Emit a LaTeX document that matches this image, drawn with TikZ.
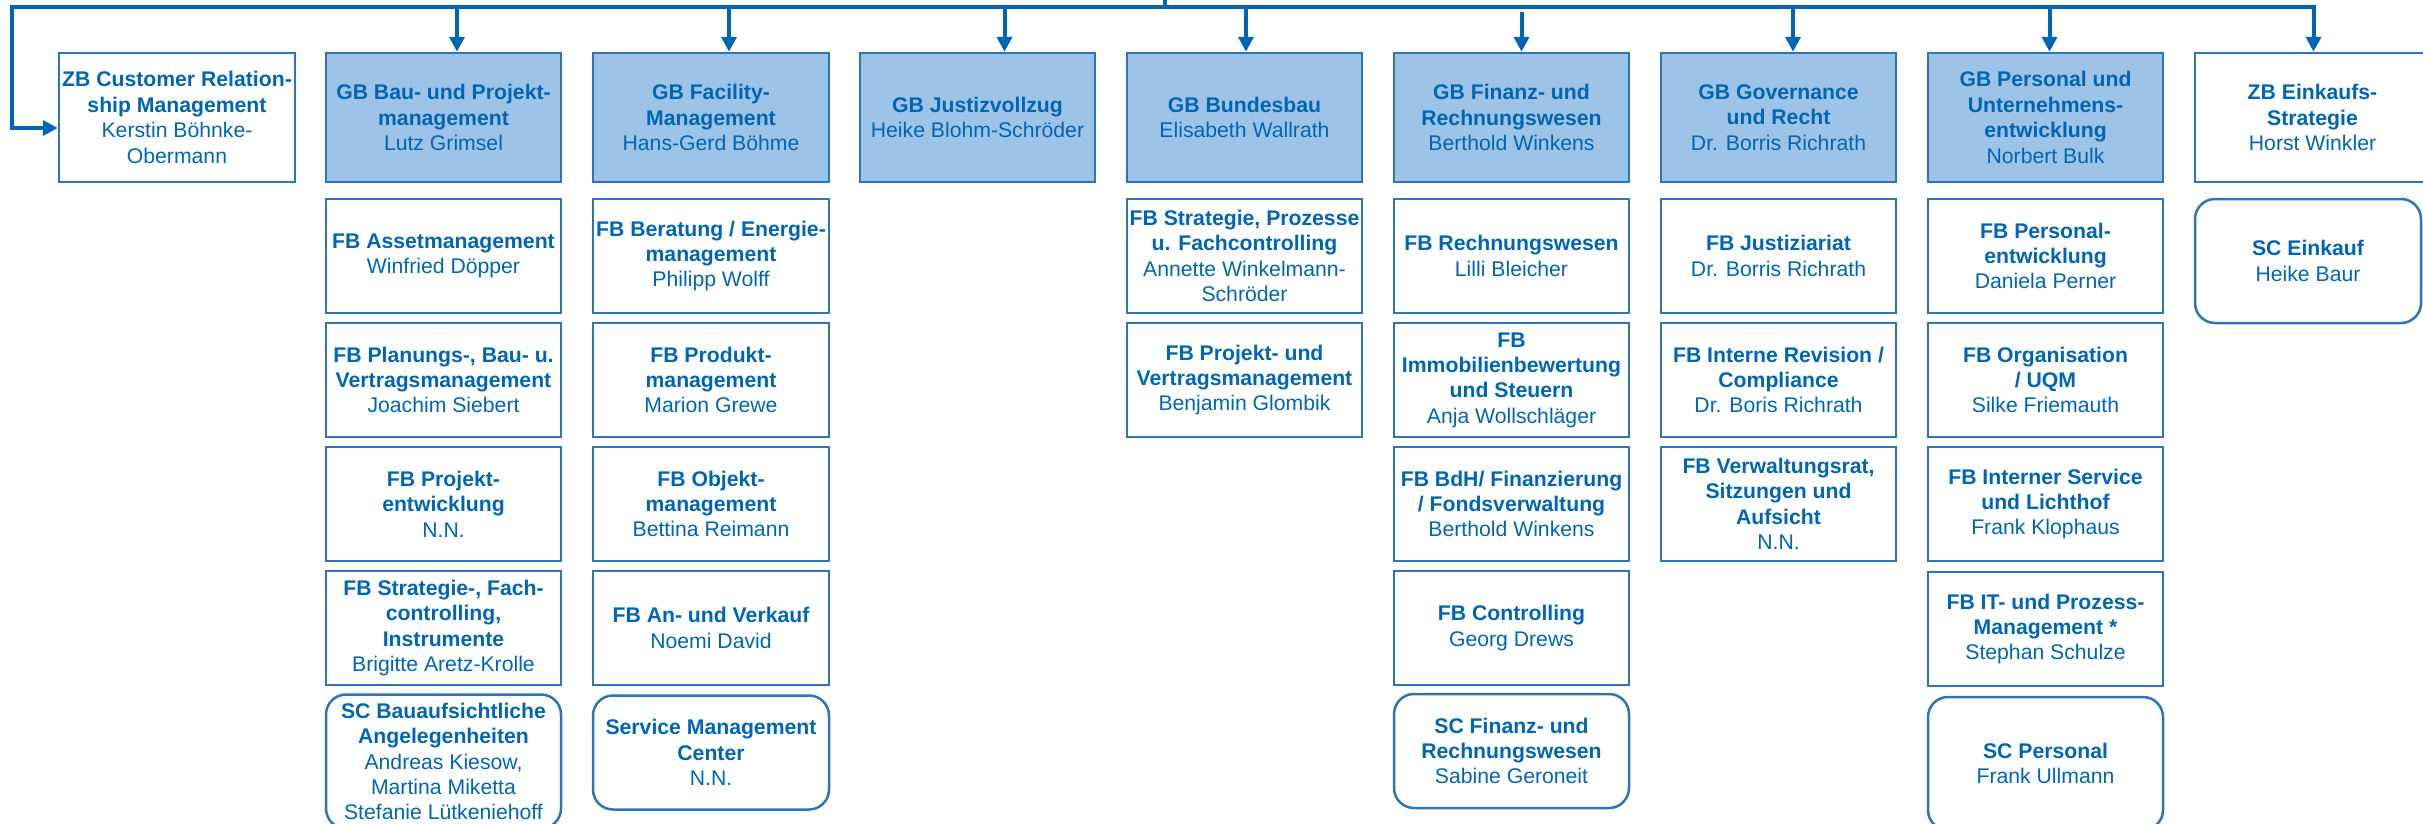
\documentclass[tikz,border=0pt]{standalone}
\usepackage{fontspec}
\setmainfont{Liberation Sans}
\usetikzlibrary{arrows.meta}
\definecolor{txtc}{HTML}{0066B3}
\definecolor{bordc}{HTML}{2E75B6}
\definecolor{fillc}{HTML}{9DC3E6}
\definecolor{arrc}{HTML}{0066B3}
\newcommand{\hd}[1]{\textbf{#1}}
\begin{document}
\begin{tikzpicture}[x=1pt,y=-1pt,
 unit/.style={draw=bordc, line width=2.5pt, text=txtc, align=center, inner sep=0pt,
   minimum width=235pt, minimum height=114pt, fill=white,
   font=\fontsize{21.2}{25.4}\selectfont},
 gbbox/.style={unit, fill=fillc, minimum height=129pt},
 zbbox/.style={unit, minimum height=129pt},
 fbbox/.style={unit},
 scbox/.style={unit, rounded corners=20pt},
 conn/.style={draw=arrc, line width=4pt},
 arr/.style={conn, -{Triangle[length=15pt,width=15pt]}}
]
\useasboundingbox (0,0) rectangle (2423,823);

% ---------- header row ----------
\node[zbbox, minimum width=236pt] (crm) at (177,117.5)
  {\hd{ZB Customer Relation-}\\\hd{ship Management}\\Kerstin Böhnke-\\Obermann};
\node[gbbox] (bau) at (443.5,117.5) {\hd{GB Bau- und Projekt-}\\\hd{management}\\Lutz Grimsel};
\node[gbbox, minimum width=236pt] (fac) at (711,117.5) {\hd{GB Facility-}\\\hd{Management}\\Hans-Gerd Böhme};
\node[gbbox] (jus) at (977.5,117.5) {\hd{GB Justizvollzug}\\Heike Blohm-Schröder};
\node[gbbox] (bund) at (1244.5,117.5) {\hd{GB Bundesbau}\\Elisabeth Wallrath};
\node[gbbox] (fin) at (1511.5,117.5) {\hd{GB Finanz- und}\\\hd{Rechnungswesen}\\Berthold Winkens};
\node[gbbox] (gov) at (1778.5,117.5) {\hd{GB Governance}\\\hd{und Recht}\\Dr. Borris Richrath};
\node[gbbox] (pers) at (2045.5,117.5) {\hd{GB Personal und}\\\hd{Unternehmens-}\\\hd{entwicklung}\\Norbert Bulk};
\node[zbbox] (ein) at (2312.5,117.5) {\hd{ZB Einkaufs-}\\\hd{Strategie}\\Horst Winkler};

% ---------- column Bau ----------
\node[fbbox] (b1) at (443.5,256) {\hd{FB Assetmanagement}\\Winfried Döpper};
\node[fbbox] (b2) at (443.5,380) {\hd{FB Planungs-, Bau- u.}\\\hd{Vertragsmanagement}\\Joachim Siebert};
\node[fbbox] (b3) at (443.5,504) {\hd{FB Projekt-}\\\hd{entwicklung}\\N.N.};
\node[fbbox] (b4) at (443.5,628) {\hd{FB Strategie-, Fach-}\\\hd{controlling,}\\\hd{Instrumente}\\Brigitte Aretz-Krolle};
\node[scbox, minimum height=134pt] (b5) at (443.5,761.5) {\hd{SC Bauaufsichtliche}\\\hd{Angelegenheiten}\\Andreas Kiesow,\\Martina Miketta\\Stefanie Lütkeniehoff};

% ---------- column Facility ----------
\node[fbbox, minimum width=236pt] (f1) at (711,256) {\hd{FB Beratung / Energie-}\\\hd{management}\\Philipp Wolff};
\node[fbbox, minimum width=236pt] (f2) at (711,380) {\hd{FB Produkt-}\\\hd{management}\\Marion Grewe};
\node[fbbox, minimum width=236pt] (f3) at (711,504) {\hd{FB Objekt-}\\\hd{management}\\Bettina Reimann};
\node[fbbox, minimum width=236pt] (f4) at (711,628) {\hd{FB An- und Verkauf}\\Noemi David};
\node[scbox, minimum width=236pt] (f5) at (711,752.5) {\hd{Service Management}\\\hd{Center}\\N.N.};

% ---------- column Bundesbau ----------
\node[fbbox] (bu1) at (1244.5,256) {\hd{FB Strategie, Prozesse}\\\hd{u. Fachcontrolling}\\Annette Winkelmann-\\Schröder};
\node[fbbox] (bu2) at (1244.5,380) {\hd{FB Projekt- und}\\\hd{Vertragsmanagement}\\Benjamin Glombik};

% ---------- column Finanz ----------
\node[fbbox] (fi1) at (1511.5,256) {\hd{FB Rechnungswesen}\\Lilli Bleicher};
\node[fbbox] (fi2) at (1511.5,380) {\hd{FB}\\\hd{Immobilienbewertung}\\\hd{und Steuern}\\Anja Wollschläger};
\node[fbbox] (fi3) at (1511.5,504) {\hd{FB BdH/ Finanzierung}\\\hd{/ Fondsverwaltung}\\Berthold Winkens};
\node[fbbox] (fi4) at (1511.5,628) {\hd{FB Controlling}\\Georg Drews};
\node[scbox] (fi5) at (1511.5,751) {\hd{SC Finanz- und}\\\hd{Rechnungswesen}\\Sabine Geroneit};

% ---------- column Governance ----------
\node[fbbox] (g1) at (1778.5,256) {\hd{FB Justiziariat}\\Dr. Borris Richrath};
\node[fbbox] (g2) at (1778.5,380) {\hd{FB Interne Revision /}\\\hd{Compliance}\\Dr. Boris Richrath};
\node[fbbox] (g3) at (1778.5,504) {\hd{FB Verwaltungsrat,}\\\hd{Sitzungen und}\\\hd{Aufsicht}\\N.N.};

% ---------- column Personal ----------
\node[fbbox] (p1) at (2045.5,256) {\hd{FB Personal-}\\\hd{entwicklung}\\Daniela Perner};
\node[fbbox] (p2) at (2045.5,380) {\hd{FB Organisation}\\\hd{/ UQM}\\Silke Friemauth};
\node[fbbox] (p3) at (2045.5,504) {\hd{FB Interner Service}\\\hd{und Lichthof}\\Frank Klophaus};
\node[fbbox] (p4) at (2045.5,629) {\hd{FB IT- und Prozess-}\\\hd{Management *}\\Stephan Schulze};
\node[scbox, minimum height=133pt] (p5) at (2045.5,763.5) {\hd{SC Personal}\\Frank Ullmann};

% ---------- column Einkauf ----------
\node[scbox, minimum width=226pt, minimum height=124pt] (e1) at (2308,261) {\hd{SC Einkauf}\\Heike Baur};

% ---------- connectors ----------
\coordinate (parent) at (1165,-6);
\coordinate (barL) at (12,7);
\coordinate (barR) at (2313.5,7);
\draw[conn] (parent) -- (parent |- barL);
\draw[arr] (barL) -- (barR) -- (barR |- ein.north);
\draw[arr] (barR) -- (barL) |- ([yshift=-10.5pt]crm.west);
\coordinate (abau) at (457,7);
\coordinate (afac) at (729,7);
\coordinate (ajus) at (1004.5,7);
\coordinate (abund) at (1246,7);
\coordinate (afin) at (1521.5,12);
\coordinate (agov) at (1793,7);
\coordinate (apers) at (2049.5,7);
\draw[arr] (abau) -- (abau |- bau.north);
\draw[arr] (afac) -- (afac |- fac.north);
\draw[arr] (ajus) -- (ajus |- jus.north);
\draw[arr] (abund) -- (abund |- bund.north);
\draw[arr] (afin) -- (afin |- fin.north);
\draw[arr] (agov) -- (agov |- gov.north);
\draw[arr] (apers) -- (apers |- pers.north);
\end{tikzpicture}
\end{document}
